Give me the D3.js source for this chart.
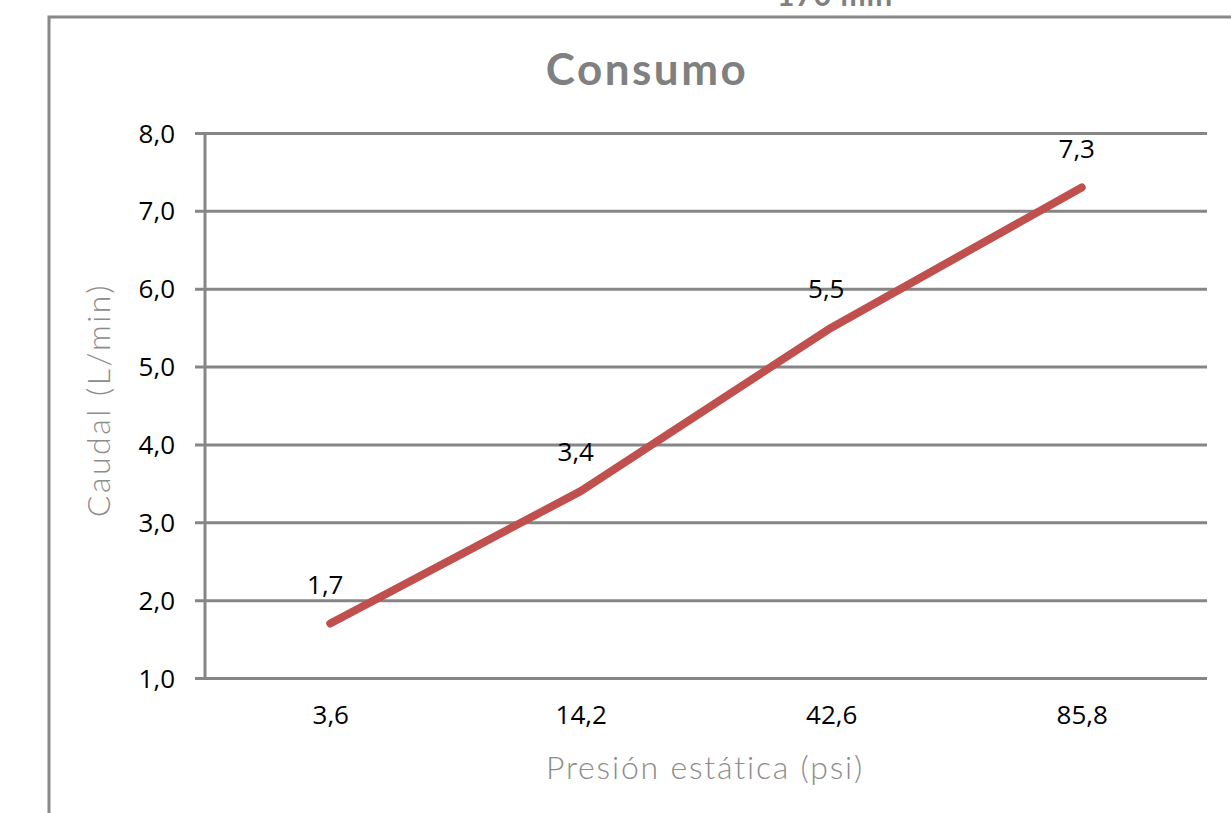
<!DOCTYPE html>
<html>
<head>
<meta charset="utf-8">
<script src="https://cdn.jsdelivr.net/npm/d3@7"></script>
<style>
  body { margin: 0; background: #fff; }
  .tick text { font-family: "Open Sans", sans-serif; font-size: 26px; fill: #000; }
  .label { font-family: Lato, "Noto Sans", sans-serif; font-size: 32px; fill: #8c8c8c; font-weight: 300; }
  .plotTitle { font-family: Lato, "Noto Sans", sans-serif; font-size: 44px; font-weight: bold; fill: #808080; letter-spacing: 2.5px; }
  .dataLabel { font-family: "Open Sans", sans-serif; font-size: 26px; fill: #000; }
</style>
</head>
<body>
<svg id="chart" width="1231" height="813"></svg>
<script>
const categories = ["3,6", "14,2", "42,6", "85,8"];
const caudal = [1.7, 3.4, 5.5, 7.3];
const yTicks = [1, 2, 3, 4, 5, 6, 7, 8];

const title = "Consumo";
const xLabel = "Presión estática (psi)";
const yLabel = "Caudal (L/min)";

const fmt = d => d.toFixed(1).replace(".", ",");

let svg = d3.select("#chart");

// outer chart frame (runs off the page on the right and bottom)
svg.append("rect")
  .attr("x", 49).attr("y", 17)
  .attr("width", 1300).attr("height", 900)
  .attr("fill", "none")
  .attr("stroke", "#888")
  .attr("stroke-width", 3);

// caption of the chart above, cut off at the top
svg.append("text")
  .attr("x", 835).attr("y", 6)
  .attr("text-anchor", "middle")
  .attr("class", "plotTitle")
  .style("font-size", "30px")
  .style("letter-spacing", "1px")
  .text("170 min");

let xScale = d3.scalePoint()
  .domain(categories)
  .range([205, 1207])
  .padding(0.5);
let yScale = d3.scaleLinear()
  .domain([1, 8])
  .range([678, 133]);

// gridlines + y axis
let y_axis = d3.axisLeft(yScale)
  .tickValues(yTicks)
  .tickFormat(fmt)
  .tickSize(-(1207 - 195))
  .tickPadding(20);
let gy = svg.append("g")
  .attr("transform", `translate(${195},0)`)
  .call(y_axis);
gy.select(".domain").remove();
gy.selectAll(".tick line")
  .attr("stroke", "#868686")
  .attr("stroke-width", 3);
gy.selectAll(".tick text").attr("x", -20).attr("dy", "0.35em");

svg.append("line")
  .attr("x1", 205).attr("x2", 205)
  .attr("y1", yScale(8)).attr("y2", yScale(1))
  .attr("stroke", "#868686")
  .attr("stroke-width", 3);

// x axis labels
let x_axis = d3.axisBottom(xScale).tickSize(0).tickPadding(28);
let gx = svg.append("g")
  .attr("transform", `translate(0,${678})`)
  .call(x_axis);
gx.select(".domain").remove();

// line
let line = d3.line()
  .x((d, i) => xScale(categories[i]))
  .y(d => yScale(d));
svg.append("path")
  .datum(caudal)
  .attr("d", line)
  .attr("fill", "none")
  .attr("stroke", "#C0504D")
  .attr("stroke-width", 8)
  .attr("stroke-linecap", "round")
  .attr("stroke-linejoin", "round");

// data labels
svg.selectAll(".dataLabel")
  .data(caudal)
  .enter()
  .append("text")
  .attr("class", "dataLabel")
  .attr("x", (d, i) => xScale(categories[i]) - 5)
  .attr("y", d => yScale(d) - 30)
  .attr("text-anchor", "middle")
  .text(fmt);

// title
svg.append("text")
  .attr("x", 647).attr("y", 85)
  .attr("text-anchor", "middle")
  .attr("class", "plotTitle")
  .text(title);

// axis labels
svg.append("text")
  .attr("class", "label")
  .attr("x", 705).attr("y", 779)
  .attr("text-anchor", "middle")
  .style("letter-spacing", "1.8px")
  .text(xLabel);

svg.append("text")
  .attr("class", "label")
  .attr("transform", `translate(${110},${400}) rotate(270)`)
  .attr("text-anchor", "middle")
  .style("letter-spacing", "2.5px")
  .text(yLabel);
</script>
</body>
</html>
